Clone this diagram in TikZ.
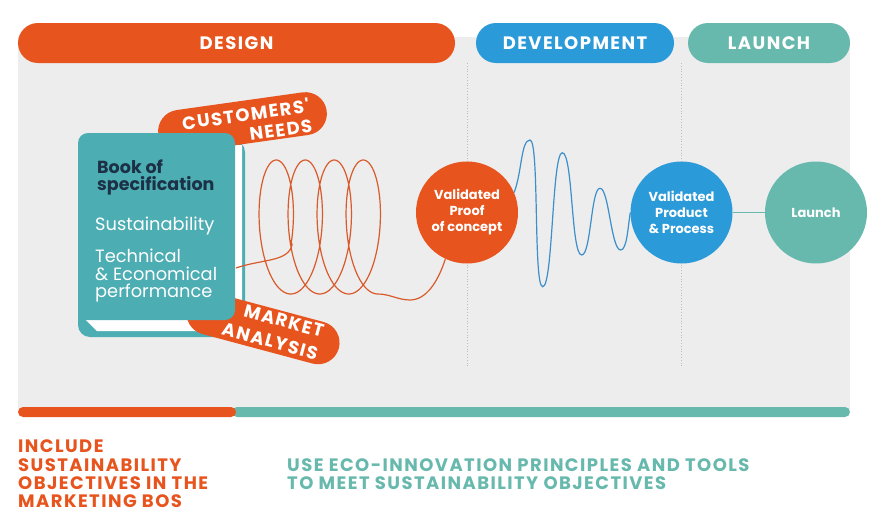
\documentclass[tikz,border=0pt]{standalone}
\usepackage{fontspec}
\setmainfont{Poppins}
\newfontfamily\hdfont[LetterSpace=8]{Poppins}
\definecolor{dorange}{HTML}{E8541E}
\definecolor{dblue}{HTML}{2B9AD8}
\definecolor{dteal}{HTML}{67B9AD}
\definecolor{bookteal}{HTML}{4CADB3}
\definecolor{navy}{HTML}{1C3146}
\definecolor{bggrey}{HTML}{EDEDED}
\definecolor{spiralc}{HTML}{D95A2B}
\definecolor{wavec}{HTML}{3C8FCB}
\definecolor{dotc}{HTML}{BDBDBD}
\begin{document}
\begin{tikzpicture}[x=1pt,y=1pt,
  phase/.style={rounded corners=20pt, inner sep=0pt, minimum height=40pt, text=white,
    font=\hdfont\bfseries\fontsize{18}{18}\selectfont},
  tag/.style={fill=dorange, rounded corners=21.5pt, minimum height=43pt, inner sep=0pt},
  tagtext/.style={text=white, align=right, inner sep=0pt},
  milestone/.style={circle, minimum size=102pt, inner sep=0pt, text=white, align=center,
    font=\bfseries\fontsize{13}{16}\selectfont},
  booktitle/.style={anchor=base west, inner sep=0pt, text=navy,
    font=\bfseries\fontsize{17.5}{18}\selectfont},
  booktext/.style={anchor=base west, inner sep=0pt, text=white,
    font=\fontsize{17.8}{18.5}\selectfont},
  note/.style={anchor=base west, inner sep=0pt,
    font=\hdfont\bfseries\fontsize{18}{18.5}\selectfont},
  dotline/.style={dotc, dotted, line width=0.8pt},
  spiralline/.style={spiralc, line width=1.2pt},
  waveline/.style={wavec, line width=1.2pt},
  bar/.style={rounded corners=5pt}
]
\useasboundingbox (0,0) rectangle (892,-522);
\fill[white] (0,0) rectangle (892,-522);
% grey field
\fill[bggrey] (18,-37) rectangle (850,-410);
% bottom bars
\fill[dteal, bar] (232,-407) rectangle (850,-417);
\fill[dorange, bar] (18,-407) rectangle (236,-417);
% dotted separators
\draw[dotline] (467,-63) -- (467,-367);
\draw[dotline] (681,-63) -- (681,-367);
% phase headers
\node[phase, fill=dorange, minimum width=437pt] (design) at (236.5,-43) {DESIGN};
\node[phase, fill=dblue, minimum width=198pt] (devel) at (575,-43) {DEVELOPMENT};
\node[phase, fill=dteal, minimum width=162pt] (launchhd) at (769,-43) {LAUNCH};
% book back cover and pages
\fill[bookteal, rounded corners=12pt] (78,-140) rectangle (245,-337);
\fill[white] (86,-320) -- (97,-331) -- (242,-331) -- (242,-145) -- (235,-145) -- (235,-320) -- cycle;
% tags
\node[tag, rotate=8, minimum width=170pt] (cust) at (242.5,-122.5) {};
\node[tagtext, rotate=8, font=\hdfont\bfseries\fontsize{18}{20}\selectfont] (custtext) at (247,-124) {CUSTOMERS'\\NEEDS};
\node[tag, rotate=-15, minimum width=157pt] (mkt) at (263,-328) {};
\node[tagtext, rotate=-15, font=\hdfont\bfseries\fontsize{18}{23}\selectfont] (mkttext) at (273,-330) {MARKET\\ANALYSIS};
% book front cover
\fill[bookteal, rounded corners=10pt] (78,-133) rectangle (235,-320);
\node[booktitle] (bk1) at (97,-173) {Book of};
\node[booktitle] (bk2) at (97,-190) {specification};
\node[booktext] (bk3) at (95,-230) {Sustainability};
\node[booktext] (bk4) at (95,-262) {Technical};
\node[booktext] (bk5) at (95,-280) {\& Economical};
\node[booktext] (bk6) at (95,-297) {performance};
% milestones
\node[milestone, fill=dorange] (poc) at (467,-212.5) {Validated\\Proof\\of concept};
\node[milestone, fill=dblue] (pp) at (681.5,-212.5) {Validated\\Product\\\& Process};
\node[milestone, fill=dteal] (launch) at (816,-212.5) {Launch};
\draw[dteal, line width=1.5pt] (pp) -- (launch);
% orange scribble from book to proof of concept
\coordinate (bookR) at (236,-268);
\draw[spiralline] (bookR) .. controls (262,-259) and (289,-262) .. (292.1,-244.3)
  -- plot[domain=-15:1350, samples=320, smooth] ({269 + 29/360*\x + 24*cos(\x)}, {-227 + 67*sin(\x)})
  .. controls (390,-294) and (398,-300) .. (410,-300)
  .. controls (426,-300) and (438,-282) .. (poc.245);
% blue wave from proof of concept to product & process
\draw[waveline] (poc.23) .. controls (522,-172) and (521,-140) .. (530,-140)
  .. controls (539.5,-140) and (533.2,-287) .. (542.7,-286.7)
  .. controls (553,-287) and (552,-153) .. (562.3,-152.7)
  .. controls (573,-153) and (571,-255) .. (581.7,-255)
  .. controls (591,-255) and (591,-188) .. (600,-188.3)
  .. controls (609,-188) and (611,-250) .. (620.7,-250)
  .. controls (627,-250) and (628,-226) .. (pp.west);
% notes
\node[note, text=dorange] (n1) at (18,-452) {INCLUDE};
\node[note, text=dorange] (n2) at (18,-471) {SUSTAINABILITY};
\node[note, text=dorange] (n3) at (18,-489) {OBJECTIVES IN THE};
\node[note, text=dorange] (n4) at (18,-507) {MARKETING BOS};
\node[note, text=dteal] (n5) at (287,-471) {USE ECO-INNOVATION PRINCIPLES AND TOOLS};
\node[note, text=dteal] (n6) at (287,-489) {TO MEET SUSTAINABILITY OBJECTIVES};
\end{tikzpicture}
\end{document}
